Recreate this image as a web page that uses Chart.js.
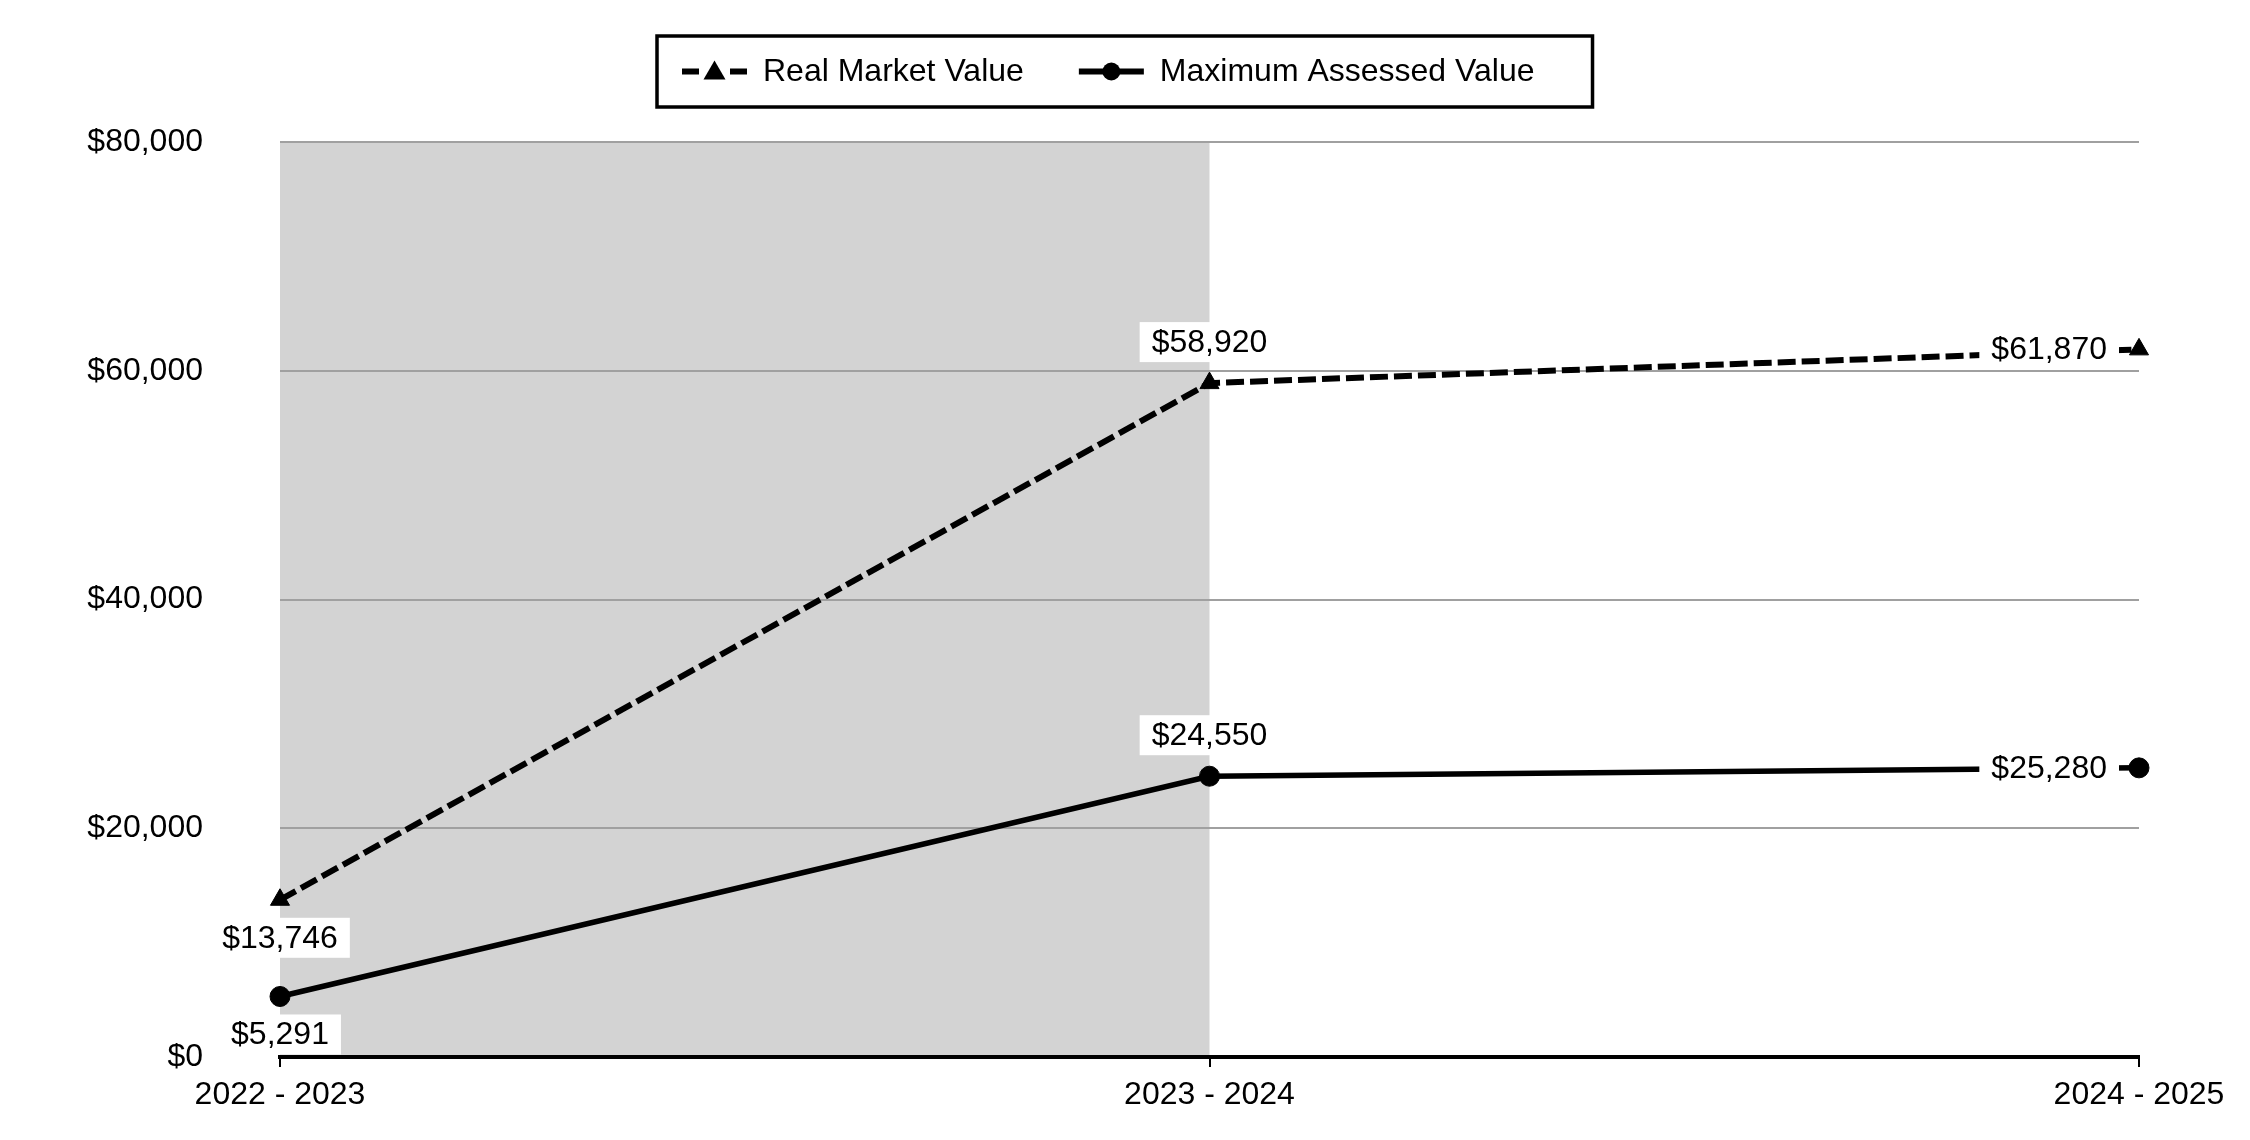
<!DOCTYPE html>
<html>
<head>
<meta charset="utf-8">
<script src="https://cdn.jsdelivr.net/npm/chart.js@4/dist/chart.umd.min.js"></script>
<style>
  html, body { margin: 0; padding: 0; background: #fff; }
  #wrap { width: 2250px; height: 1140px; }
</style>
</head>
<body>
<div id="wrap"><canvas id="valueChart"></canvas></div>
<script>
// assessed value history chart

const years = ["2022 - 2023", "2023 - 2024", "2024 - 2025"];
const realMarketValue = [13746, 58920, 61870];
const maxAssessedValue = [5291, 24550, 25280];
const seriesNames = ["Real Market Value", "Maximum Assessed Value"];
const yTicks = [0, 20000, 40000, 60000, 80000];

const FONT = "'Liberation Sans', Arial, sans-serif";
const money = v => "$" + Math.round(v).toLocaleString("en-US");

// gray band over the first period, drawn under the grid
const shadePlugin = {
  id: "shade",
  beforeDraw(chart) {
    const { ctx, chartArea, scales } = chart;
    ctx.save();
    ctx.fillStyle = "#fff";
    ctx.fillRect(0, 0, chart.width, chart.height);
    const x0 = scales.x.getPixelForValue(0);
    const x1 = scales.x.getPixelForValue(1);
    ctx.fillStyle = "#d3d3d3";
    ctx.fillRect(x0, chartArea.top, x1 - x0, chartArea.bottom - chartArea.top);
    ctx.restore();
  }
};

// value labels with white boxes
const labelPlugin = {
  id: "valueLabels",
  afterDatasetsDraw(chart) {
    const ctx = chart.ctx;
    ctx.save();
    ctx.font = "32px " + FONT;
    ctx.textBaseline = "middle";
    chart.data.datasets.forEach((ds, di) => {
      const meta = chart.getDatasetMeta(di);
      meta.data.forEach((pt, i) => {
        const txt = money(ds.data[i]);
        const w = ctx.measureText(txt).width + 24;
        const h = 40;
        let cx = pt.x, cy = pt.y;
        if (i === 0) cy = pt.y + 38;
        else if (i === meta.data.length - 1) { cx = pt.x - 20 - w / 2; }
        else cy = pt.y - 41;
        ctx.fillStyle = "#fff";
        ctx.fillRect(cx - w / 2, cy - h / 2, w, h);
        ctx.fillStyle = "#000";
        ctx.textAlign = "center";
        ctx.fillText(txt, cx, cy + 1);
      });
    });
    ctx.restore();
  }
};

// boxed legend with line + marker samples
const legendPlugin = {
  id: "boxLegend",
  afterDraw(chart) {
    const ctx = chart.ctx;
    ctx.save();
    ctx.font = "32px " + FONT;
    const w1 = ctx.measureText(seriesNames[0]).width;
    const w2 = ctx.measureText(seriesNames[1]).width;
    const sample = 65, gapText = 16, gapItem = 55, padL = 25, padR = 58;
    const total = padL + sample + gapText + w1 + gapItem + sample + gapText + w2 + padR;
    const bx = Math.round((chart.width - total) / 2), by = 36, bh = 71;
    const cy = by + bh / 2;
    ctx.lineWidth = 3.5;
    ctx.strokeStyle = "#000";
    ctx.strokeRect(bx, by, total, bh);

    let x = bx + padL;
    // dashed sample with triangle
    ctx.lineWidth = 6;
    ctx.setLineDash([17, 31]);
    ctx.beginPath(); ctx.moveTo(x, cy); ctx.lineTo(x + sample, cy); ctx.stroke();
    ctx.setLineDash([]);
    const tx = x + sample / 2;
    ctx.fillStyle = "#000";
    ctx.beginPath();
    ctx.moveTo(tx, cy - 11); ctx.lineTo(tx + 11, cy + 8); ctx.lineTo(tx - 11, cy + 8);
    ctx.closePath(); ctx.fill();
    x += sample + gapText;
    ctx.textBaseline = "middle";
    ctx.textAlign = "left";
    ctx.fillText(seriesNames[0], x, cy + 1);
    x += w1 + gapItem;
    // solid sample with circle
    ctx.beginPath(); ctx.moveTo(x, cy); ctx.lineTo(x + sample, cy); ctx.stroke();
    ctx.beginPath(); ctx.arc(x + sample / 2, cy, 9, 0, Math.PI * 2); ctx.fill();
    x += sample + gapText;
    ctx.fillText(seriesNames[1], x, cy + 1);
    ctx.restore();
  }
};

new Chart(document.getElementById("valueChart"), {
  type: "line",
  data: {
    labels: years,
    datasets: [
      {
        label: seriesNames[0],
        data: realMarketValue,
        borderColor: "#000",
        backgroundColor: "#000",
        borderWidth: 6,
        borderDash: [18, 6],
        tension: 0,
        pointStyle: "triangle",
        pointRadius: 11,
        pointBorderWidth: 1
      },
      {
        label: seriesNames[1],
        data: maxAssessedValue,
        borderColor: "#000",
        backgroundColor: "#000",
        borderWidth: 5.5,
        tension: 0,
        pointStyle: "circle",
        pointRadius: 10,
        pointBorderWidth: 1
      }
    ]
  },
  options: {
    responsive: true,
    maintainAspectRatio: false,
    devicePixelRatio: 1,
    animation: false,
    layout: { padding: { left: 0, right: 111, top: 142, bottom: 0 } },
    plugins: {
      legend: { display: false },
      tooltip: { enabled: false }
    },
    scales: {
      x: {
        offset: false,
        // pin the plot area: no extra label padding
        afterFit: s => { s.height = 83; s.paddingLeft = 0; s.paddingRight = 0; },
        grid: { drawOnChartArea: false, drawTicks: true, tickLength: 10, color: "#000", lineWidth: 2 },
        border: { color: "#000", width: 4 },
        ticks: { color: "#000", font: { size: 32, family: FONT }, padding: 9, maxRotation: 0, autoSkip: false }
      },
      y: {
        min: 0,
        max: 80000,
        afterFit: s => { s.width = 280; s.paddingTop = 0; s.paddingBottom = 0; },
        afterBuildTicks: s => { s.ticks = yTicks.map(v => ({ value: v })); },
        grid: { color: "#a0a0a0", lineWidth: 2, drawTicks: false },
        border: { display: false },
        ticks: { color: "#000", font: { size: 32, family: FONT }, padding: 77, callback: v => money(v) }
      }
    }
  },
  plugins: [shadePlugin, labelPlugin, legendPlugin]
});
</script>
</body>
</html>
